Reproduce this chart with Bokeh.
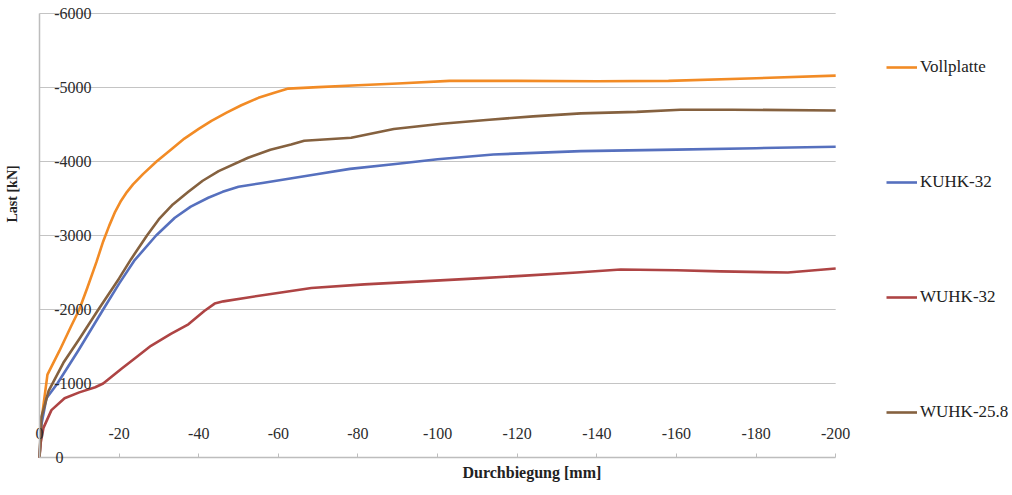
import math
from bokeh.plotting import figure
from bokeh.models import Range1d, FixedTicker, Legend, LegendItem, Title
from bokeh.embed import file_html
from bokeh.resources import INLINE

# ---- data ----
x_ticks = [0, -20, -40, -60, -80, -100, -120, -140, -160, -180, -200]
x_tick_labels = ["0", "-20", "-40", "-60", "-80", "-100", "-120", "-140", "-160", "-180", "-200"]
y_ticks = [0, -1000, -2000, -3000, -4000, -5000, -6000]
y_tick_labels = ["0", "-1000", "-2000", "-3000", "-4000", "-5000", "-6000"]

series_names = ["Vollplatte", "KUHK-32", "WUHK-32", "WUHK-25.8"]

vollplatte_x = [0, -0.5, -2, -5, -8, -10, -12, -14.3, -16, -17.5, -19, -20.5, -22, -23.5, -26,
                -29.4, -33, -36.4, -40, -43.2, -47, -50.7, -55, -59, -62.5, -70, -80, -90,
                -103, -120, -140, -158, -180, -200]
vollplatte_y = [0, -500, -1120, -1440, -1780, -2000, -2290, -2640, -2920, -3130, -3320,
                -3470, -3590, -3690, -3830, -4000, -4160, -4310, -4440, -4550, -4660, -4760,
                -4860, -4930, -4985, -5005, -5030, -5055, -5090, -5090, -5085, -5090, -5125,
                -5160]

kuhk32_x = [0, -0.5, -1.75, -4.5, -9.8, -16, -20, -23.8, -29.3, -34, -38, -42.4, -46, -50,
            -56, -63, -70, -78, -90, -100, -114, -136, -160, -180, -200]
kuhk32_y = [0, -450, -800, -1000, -1450, -2000, -2350, -2660, -3000, -3240, -3390, -3510,
            -3590, -3660, -3710, -3770, -3830, -3900, -3970, -4030, -4095, -4140, -4160,
            -4180, -4200]

wuhk32_x = [0, -0.3, -1, -3, -6.3, -10, -14, -16, -20.6, -24, -28, -33, -37.4, -41.4, -44,
            -46.2, -52, -60.7, -68.3, -81.6, -96, -110, -121, -135, -146, -160, -171,
            -188, -200]
wuhk32_y = [0, -200, -400, -640, -800, -880, -950, -1000, -1200, -1340, -1510, -1670, -1800,
            -1980, -2080, -2110, -2160, -2230, -2290, -2340, -2380, -2420, -2455, -2500,
            -2540, -2530, -2515, -2500, -2555]

wuhk258_x = [0, -0.5, -2.3, -6, -10, -14.8, -20, -23, -27, -30, -33.5, -37.4, -41, -45, -52.4,
             -58, -63.2, -66.5, -78.3, -89, -101, -113, -124, -136, -150, -161, -174, -200]
wuhk258_y = [0, -550, -900, -1280, -1600, -2000, -2420, -2680, -3000, -3220, -3420, -3590,
             -3740, -3870, -4050, -4160, -4230, -4280, -4320, -4440, -4510, -4565, -4610,
             -4650, -4670, -4700, -4700, -4690]

colors = ["#F28B25", "#5670BE", "#AE4444", "#85613F"]

FONT = "Liberation Serif"

# layout: plot area x 38..835 (0..-200), y 13..457 (-6000..0); the frame is
# extended around it so the legend and tick labels are not clipped.
W, H = 1012, 495
PX0, PX1, PY0, PY1 = 38, 835, 13, 457
FRAME_LEFT = 20
FRAME_BOTTOM = 465
x_per_px = 200 / (PX1 - PX0)
y_per_px = 6000 / (PY1 - PY0)
x_start = (PX0 - FRAME_LEFT) * x_per_px
x_end = -(W - PX0) * x_per_px
y_start = (FRAME_BOTTOM - PY1) * y_per_px
y_end = -6000 - PY0 * y_per_px

p = figure(width=W, height=H, output_backend="svg", toolbar_location=None,
           x_range=Range1d(x_start, x_end), y_range=Range1d(y_start, y_end),
           min_border_left=FRAME_LEFT, min_border_right=0, min_border_top=0,
           min_border_bottom=H - FRAME_BOTTOM)
p.outline_line_color = None
p.background_fill_color = "white"
p.border_fill_color = "white"
p.xgrid.visible = False
p.ygrid.visible = False

# horizontal grid lines across the plot area only
p.segment(x0=[x_ticks[0]] * (len(y_ticks) - 1), x1=[x_ticks[-1]] * (len(y_ticks) - 1),
          y0=y_ticks[1:], y1=y_ticks[1:], line_color="#c4c4c4", line_width=1)

p.xaxis.ticker = FixedTicker(ticks=x_ticks)
p.yaxis.ticker = FixedTicker(ticks=y_ticks)
p.xaxis.major_label_overrides = {t: s for t, s in zip(x_ticks, x_tick_labels)}
# the "0" of the value axis is left-aligned with the other labels
y_over = {t: s for t, s in zip(y_ticks, y_tick_labels)}
y_over[0] = "0" + "\u00a0" * 7
p.yaxis.major_label_overrides = y_over
for ax in (p.xaxis, p.yaxis):
    ax.fixed_location = 0
    ax.axis_line_color = "#bdbdbd"
    ax.axis_line_width = 1.5
    ax.major_tick_line_color = "#bdbdbd"
    ax.minor_tick_line_color = None
    ax.major_label_text_font = FONT
    ax.major_label_text_font_size = "16px"
    ax.major_label_text_color = "#2b2b2b"

p.xaxis.bounds = (x_ticks[-1], x_ticks[0])
p.yaxis.bounds = (y_ticks[-1], y_ticks[0])
p.xaxis.major_tick_in = 4
p.xaxis.major_tick_out = 0
p.xaxis.major_label_standoff = -30
p.yaxis.major_tick_in = 0
p.yaxis.major_tick_out = 0
p.yaxis.major_label_standoff = -52

xs = [vollplatte_x, kuhk32_x, wuhk32_x, wuhk258_x]
ys = [vollplatte_y, kuhk32_y, wuhk32_y, wuhk258_y]
renderers = []
for x, y, c in zip(xs, ys, colors):
    renderers.append(p.line(x, y, line_color=c, line_width=2.6, line_join="round"))

legend = Legend(items=[LegendItem(label=n, renderers=[r]) for n, r in zip(series_names, renderers)],
                location=(885 - FRAME_LEFT, FRAME_BOTTOM - 422), orientation="vertical",
                spacing=95, padding=0, margin=0,
                glyph_width=31, glyph_height=20, label_height=20, label_standoff=3,
                label_text_font=FONT, label_text_font_size="17px",
                label_text_color="#222222", border_line_color=None,
                background_fill_alpha=0)
p.add_layout(legend)

p.add_layout(Title(text="Durchbiegung [mm]", align="left", offset=423 + (PX0 - FRAME_LEFT),
                   standoff=-8, text_font=FONT, text_font_size="16px",
                   text_font_style="bold", text_color="#222222"), "below")
p.add_layout(Title(text="Last [kN]", align="left", offset=235 + (FRAME_BOTTOM - PY1), standoff=4,
                   text_font=FONT, text_font_size="14px", text_font_style="bold",
                   text_color="#222222"), "left")

open("out.html", "w").write(file_html(p, INLINE))
